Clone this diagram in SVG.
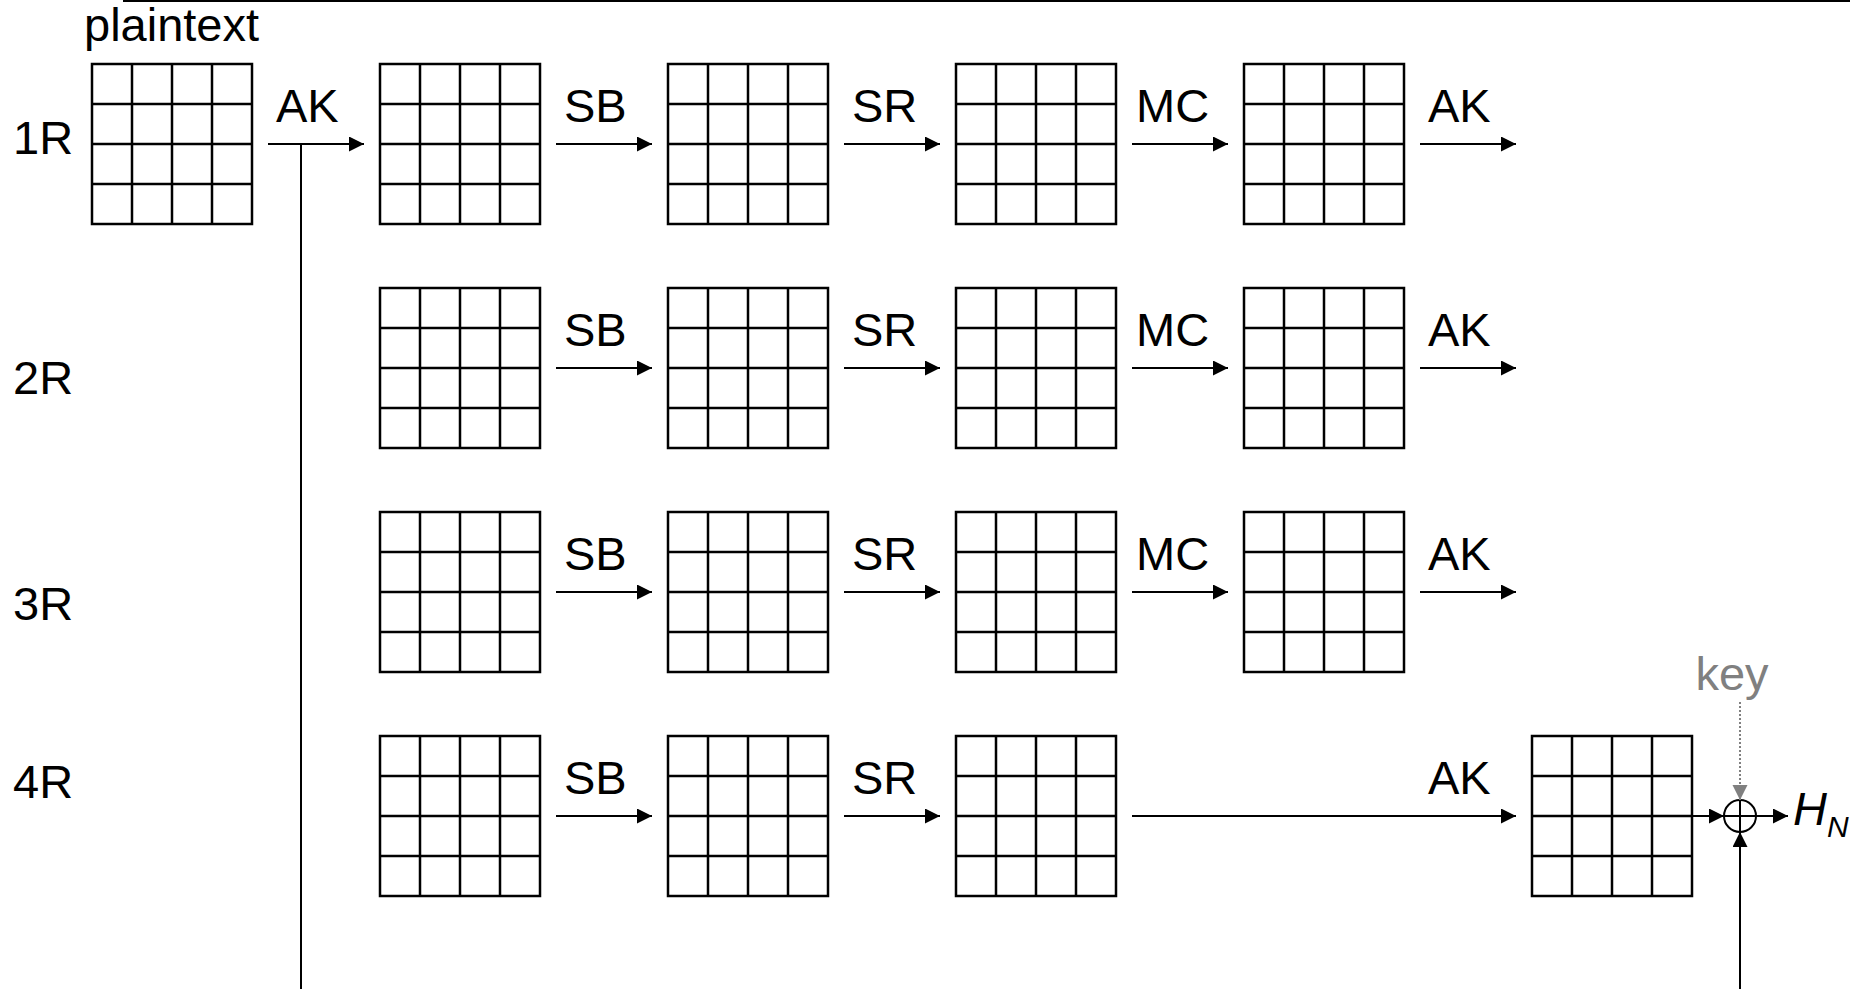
<svg xmlns="http://www.w3.org/2000/svg" xmlns:xlink="http://www.w3.org/1999/xlink" width="1862" height="989" viewBox="0 0 1862 989">
<style>
.g{fill:#fff;stroke:#000;stroke-width:2.5}
.gl{stroke:#000;stroke-width:2.5}
.t{font-family:"Liberation Sans",Arial,sans-serif;font-size:47px;fill:#000}
.c{stroke:#000;stroke-width:2;fill:none}
.a{marker-end:url(#ah)}
</style>
<defs>
<marker id="ah" markerUnits="userSpaceOnUse" markerWidth="16" markerHeight="16" refX="15" refY="7.5" orient="auto"><path d="M0,0 L15,7.5 L0,15 z" fill="#000"/></marker>
<marker id="ahg" markerUnits="userSpaceOnUse" markerWidth="16" markerHeight="16" refX="15" refY="7.5" orient="auto"><path d="M0,0 L15,7.5 L0,15 z" fill="#808080"/></marker>
<g id="grid">
<rect class="g" x="0" y="0" width="160" height="160"/>
<path class="gl" d="M40,0V160M80,0V160M120,0V160M0,40H160M0,80H160M0,120H160"/>
</g>
</defs>
<rect width="1862" height="989" fill="#fff"/>

<g id="labels">
<text class="t" x="84" y="41">plaintext</text>
<text class="t" x="13" y="154">1R</text>
<text class="t" x="13" y="394">2R</text>
<text class="t" x="13" y="620">3R</text>
<text class="t" x="13" y="798">4R</text>
</g>

<g id="r1-plain"><use xlink:href="#grid" x="92" y="64"/></g>
<g id="r1-ak"><use xlink:href="#grid" x="380" y="64"/></g>
<g id="r1-sb"><use xlink:href="#grid" x="668" y="64"/></g>
<g id="r1-sr"><use xlink:href="#grid" x="956" y="64"/></g>
<g id="r1-mc"><use xlink:href="#grid" x="1244" y="64"/></g>

<g id="r2-in"><use xlink:href="#grid" x="380" y="288"/></g>
<g id="r2-sb"><use xlink:href="#grid" x="668" y="288"/></g>
<g id="r2-sr"><use xlink:href="#grid" x="956" y="288"/></g>
<g id="r2-mc"><use xlink:href="#grid" x="1244" y="288"/></g>

<g id="r3-in"><use xlink:href="#grid" x="380" y="512"/></g>
<g id="r3-sb"><use xlink:href="#grid" x="668" y="512"/></g>
<g id="r3-sr"><use xlink:href="#grid" x="956" y="512"/></g>
<g id="r3-mc"><use xlink:href="#grid" x="1244" y="512"/></g>

<g id="r4-in"><use xlink:href="#grid" x="380" y="736"/></g>
<g id="r4-sb"><use xlink:href="#grid" x="668" y="736"/></g>
<g id="r4-sr"><use xlink:href="#grid" x="956" y="736"/></g>
<g id="r4-ak"><use xlink:href="#grid" x="1532" y="736"/></g>

<g id="xor">
<circle cx="1740" cy="816" r="16" fill="#fff" stroke="#000" stroke-width="2"/>
<path d="M1724,816H1756M1740,800V832" stroke="#000" stroke-width="2"/>
</g>

<g id="key">
<text class="t" x="1732" y="690" text-anchor="middle" style="fill:#808080">key</text>
</g>

<g id="output">
<text x="1793" y="825" font-family="Liberation Sans, Arial, sans-serif" font-size="47" font-style="italic">H<tspan font-size="30" dy="12">N</tspan></text>
</g>

<g id="connectors">
<line class="c a" x1="268" y1="144" x2="364" y2="144"/>
<line class="c a" x1="556" y1="144" x2="652" y2="144"/>
<line class="c a" x1="844" y1="144" x2="940" y2="144"/>
<line class="c a" x1="1132" y1="144" x2="1228" y2="144"/>
<line class="c a" x1="1420" y1="144" x2="1516" y2="144"/>
<line class="c a" x1="556" y1="368" x2="652" y2="368"/>
<line class="c a" x1="844" y1="368" x2="940" y2="368"/>
<line class="c a" x1="1132" y1="368" x2="1228" y2="368"/>
<line class="c a" x1="1420" y1="368" x2="1516" y2="368"/>
<line class="c a" x1="556" y1="592" x2="652" y2="592"/>
<line class="c a" x1="844" y1="592" x2="940" y2="592"/>
<line class="c a" x1="1132" y1="592" x2="1228" y2="592"/>
<line class="c a" x1="1420" y1="592" x2="1516" y2="592"/>
<line class="c a" x1="556" y1="816" x2="652" y2="816"/>
<line class="c a" x1="844" y1="816" x2="940" y2="816"/>
<line class="c a" x1="1132" y1="816" x2="1516" y2="816"/>
<line class="c a" x1="1692" y1="816" x2="1724" y2="816"/>
<line class="c a" x1="1756" y1="816" x2="1788" y2="816"/>
<line x1="1740" y1="702" x2="1740" y2="800" stroke="#808080" stroke-width="2" stroke-dasharray="2 2" marker-end="url(#ahg)"/>
<line class="c" x1="301" y1="144" x2="301" y2="989"/>
<line class="c" x1="123" y1="1" x2="1850" y2="1"/>
<line class="c a" x1="1740" y1="989" x2="1740" y2="832"/>
<text class="t" x="276" y="122">AK</text>
<text class="t" x="564" y="122">SB</text>
<text class="t" x="852" y="122">SR</text>
<text class="t" x="1136" y="122">MC</text>
<text class="t" x="1428" y="122">AK</text>
<text class="t" x="564" y="346">SB</text>
<text class="t" x="852" y="346">SR</text>
<text class="t" x="1136" y="346">MC</text>
<text class="t" x="1428" y="346">AK</text>
<text class="t" x="564" y="570">SB</text>
<text class="t" x="852" y="570">SR</text>
<text class="t" x="1136" y="570">MC</text>
<text class="t" x="1428" y="570">AK</text>
<text class="t" x="564" y="794">SB</text>
<text class="t" x="852" y="794">SR</text>
<text class="t" x="1428" y="794">AK</text>
</g>
</svg>
